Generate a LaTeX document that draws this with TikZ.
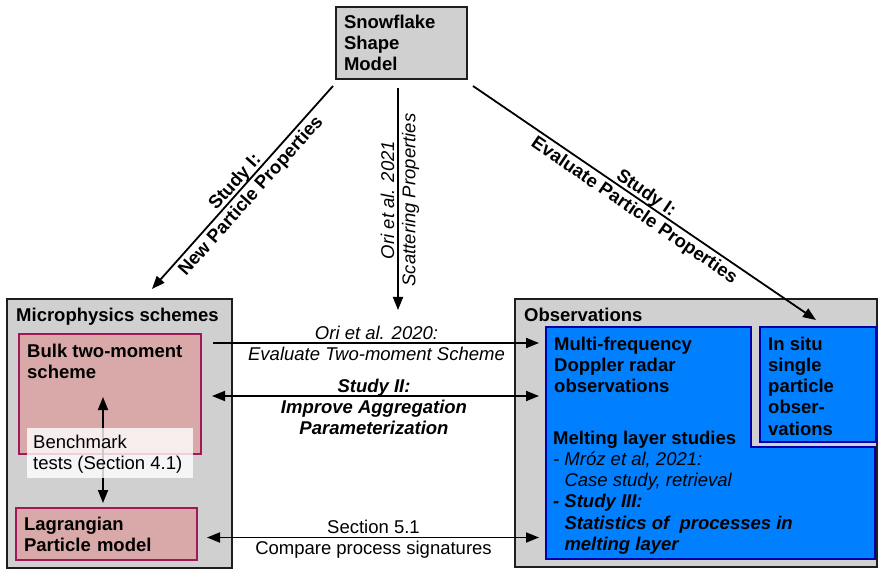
\documentclass[tikz,border=0pt]{standalone}
\usepackage{fontspec}
\setmainfont{Liberation Sans}
\usetikzlibrary{arrows.meta}
\definecolor{boxgray}{HTML}{D0D0D0}
\definecolor{darkline}{HTML}{1E1E1E}
\definecolor{pinkfill}{HTML}{D9A8A8}
\definecolor{pinkline}{HTML}{A0175A}
\definecolor{bluefill}{HTML}{0080FF}
\definecolor{blueline}{HTML}{0000A8}
\newcommand\myfs{\fontsize{18.5}{21.2}\selectfont}
\begin{document}
\begin{tikzpicture}[x=1pt,y=-1pt,
  graybox/.style={draw=darkline, fill=boxgray, line width=2pt, anchor=north west, inner sep=0pt, outer sep=0pt},
  pinkbox/.style={draw=pinkline, fill=pinkfill, line width=1.8pt, anchor=north west, inner sep=0pt, outer sep=0pt},
  bluebox/.style={draw=blueline, fill=bluefill, line width=1.8pt, anchor=north west, inner sep=0pt, outer sep=0pt},
  txt/.style={anchor=north west, align=left, inner sep=0pt, font=\myfs\bfseries},
  rtxt/.style={anchor=north west, align=left, inner sep=0pt, font=\myfs},
  hlbl/.style={anchor=north, align=center, inner sep=0pt},
  dlbl/.style={align=center, inner sep=0pt, text depth=0pt, font=\myfs\bfseries},
  tip/.tip={Triangle[length=13pt,width=10pt]},
  arr/.style={line width=1.8pt, -tip},
  darr/.style={line width=1.8pt, tip-tip}]
\useasboundingbox (0,0) rectangle (878,569);

% top box
\node[graybox, minimum width=131pt, minimum height=72pt, text width=115pt, inner xsep=8pt, align=left, font=\myfs\bfseries] (snow) at (336,7) {Snowflake\\Shape\\Model};

% containers
\node[graybox, minimum width=225pt, minimum height=269pt] (micro) at (7,299) {};
\node[graybox, minimum width=362pt, minimum height=268pt] (obs) at (515,299) {};
\node[anchor=base west, inner sep=0pt, font=\myfs\bfseries] (microtitle) at (16,321) {Microphysics schemes};
\node[anchor=base west, inner sep=0pt, font=\myfs\bfseries] (obstitle) at (524,321) {Observations};

% microphysics boxes
\node[pinkbox, minimum width=182pt, minimum height=120pt] (bulk) at (19,334) {};
\node[txt] (bulktxt) at (27,343.4) {Bulk two-moment\\scheme};
\node[pinkbox, minimum width=181pt, minimum height=52pt, text width=165pt, inner xsep=8pt, align=left, font=\myfs\bfseries] (lag) at (16,508) {Lagrangian\\Particle model};
\coordinate (bmtop) at (103,397);
\draw[darr] (bmtop) -- ([yshift=5pt]lag.north -| bmtop);
\node[anchor=north west, fill=white, fill opacity=0.8, text opacity=1, minimum width=166pt, minimum height=50pt, inner sep=0pt, outer sep=0pt] (bmbox) at (27,428) {};
\node[rtxt] (bmtxt) at (33,435) {Benchmark\\tests (Section 4.1)};

% observation boxes
\node[anchor=north west, inner sep=0pt, outer sep=0pt, minimum width=205pt, minimum height=232pt] (radar) at (546,327) {};
\draw[draw=blueline, fill=bluefill, line width=1.8pt] (radar.north west) -- (radar.north east) -- (751,447) -- (875,447) -- (875,559) -- (radar.south west) -- cycle;
\node[bluebox, minimum width=116pt, minimum height=115pt] (insitu) at (760,327) {};
\node[txt] (radartxt) at (554,336.7) {Multi-frequency\\Doppler radar\\observations};
\node[txt] (insitutxt) at (768,336.7) {In situ\\single\\particle\\obser-\\vations};
\node[txt, font=\myfs] (melttxt) at (553,430.7) {\textbf{Melting layer studies}\\
\textit{- Mróz et al, 2021:}\\
\textit{\hphantom{- }Case study, retrieval}\\
\textbf{\textit{- Study III:}}\\
\textbf{\textit{\hphantom{- }Statistics of\ \ processes in}}\\
\textbf{\textit{\hphantom{- }melting layer}}};

% top arrows
\coordinate (midend) at (398,310);
\draw[arr] ([shift={(-3,7)}]snow.south west) -- ([shift={(145,-10)}]micro.north west)
  node[pos=0.503, sloped, dlbl] (lblA) {Study I:\\New Particle Properties};
\draw[arr, shorten <=9pt] (snow.south -| midend) -- (midend)
  node[pos=0.524, rotate=90, dlbl, font=\myfs\itshape] (lblB) {Ori et al. 2021\\Scattering Properties};
\draw[arr] ([shift={(6,7)}]snow.south east) -- ([shift={(-2,-7)}]insitu.north)
  node[pos=0.49, sloped, dlbl] (lblC) {Study I:\\Evaluate Particle Properties};

% horizontal arrows
\coordinate (h1) at (0,343);
\coordinate (h2) at (0,396);
\coordinate (h3) at (0,537.5);
\draw[arr, shorten <=12pt, shorten >=7pt] (bulk.east |- h1) -- (radar.west |- h1);
\draw[darr, shorten <=11pt, shorten >=7pt] (bulk.east |- h2) -- (radar.west |- h2);
\draw[darr, shorten <=10pt, shorten >=7pt] (lag.east |- h3) -- (radar.west |- h3);
\node[hlbl, font=\myfs\itshape] (lbl1) at (376.5,326) {Ori et al. 2020:\\Evaluate Two-moment Scheme};
\node[hlbl, font=\myfs\bfseries\itshape] (lbl2) at (374,378.4) {Study II:\\Improve Aggregation\\Parameterization};
\node[hlbl, font=\myfs] (lbl3) at (373.5,519.4) {Section 5.1\\Compare process signatures};
\end{tikzpicture}
\end{document}
